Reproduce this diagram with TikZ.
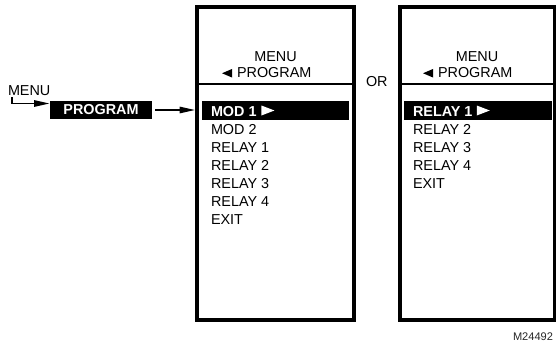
\documentclass[tikz,border=0pt]{standalone}
\usepackage{fontspec}
\setmainfont{Liberation Sans}
\usetikzlibrary{arrows.meta}
\begin{document}
\begin{tikzpicture}[x=0.75pt,y=-0.75pt,
  font=\fontsize{10.8}{12}\selectfont,
  screen/.style={draw, line width=2.6pt, inner sep=0pt, outer sep=0pt},
  bar/.style={fill=black, inner sep=0pt, outer sep=0pt, minimum height=14.25pt},
  txt/.style={inner sep=0pt, outer sep=0pt, anchor=base west},
  ctxt/.style={inner sep=0pt, outer sep=0pt, anchor=base},
  hl/.style={txt, text=white, font=\fontsize{10.8}{12}\selectfont\bfseries},
  arr/.style={line width=1.1pt, -{Triangle[length=11.5pt,width=4.8pt]}}
]
\useasboundingbox (0,0) rectangle (556,346);

% screens
\node[screen, minimum width=117.75pt, minimum height=234.75pt] (box1) at (275.5,163.5) {};
\node[screen, minimum width=115.9pt, minimum height=234.75pt] (box2) at (477.25,163.5) {};
\coordinate (d) at (0,84);
\draw[line width=0.8pt] (box1.west |- d) -- (box1.east |- d);
\draw[line width=0.8pt] (box2.west |- d) -- (box2.east |- d);

% headers
\node[ctxt] (h1) at (275.5,62) {MENU};
\node[txt] (p1) at (237,78) {PROGRAM};
\fill (222,73.25) -- (232,69) -- (232,77.5) -- cycle;
\node[ctxt] (h2) at (477,62) {MENU};
\node[txt] (p2) at (438,78) {PROGRAM};
\fill (423,73.25) -- (433,69) -- (433,77.5) -- cycle;

% highlight bars
\node[bar, minimum width=110.25pt] (bar1) at (275.5,110.5) {};
\node[bar, minimum width=111pt] (bar2) at (478,110.5) {};

% left screen items
\node[hl] (m1) at (211,116) {MOD 1};
\fill[white] ([xshift=3.6pt]m1.base east) ++(0,-0.5) -- ++(0,-10) -- ++(13,5) -- cycle;
\node[txt] (m2) at (211,134) {MOD 2};
\node[txt] (r1) at (211,152) {RELAY 1};
\node[txt] (r2) at (211,170) {RELAY 2};
\node[txt] (r3) at (211,188) {RELAY 3};
\node[txt] (r4) at (211,206) {RELAY 4};
\node[txt] (ex) at (211,224) {EXIT};

% right screen items
\node[hl] (s1) at (413,116) {RELAY 1};
\fill[white] ([xshift=3.2pt]s1.base east) ++(0,-0.5) -- ++(0,-10) -- ++(13,5) -- cycle;
\node[txt] (s2) at (413,134) {RELAY 2};
\node[txt] (s3) at (413,152) {RELAY 3};
\node[txt] (s4) at (413,170) {RELAY 4};
\node[txt] (sx) at (413,188) {EXIT};

% OR
\node[txt] (or) at (366,86) {OR};

% left side
\node[txt] (menu) at (8,95) {MENU};
\node[fill=black, text=white, font=\fontsize{10.8}{12}\selectfont\bfseries,
      inner sep=0pt, outer sep=0pt, minimum width=76.5pt, minimum height=13.5pt] (prog) at (101,110) {PROGRAM};
\coordinate (lstart) at (12,97);
\coordinate (ltip) at (49.5,103.5);
\draw[arr] (lstart) |- (ltip);
\draw[arr, shorten <=2.25pt, shorten >=1.5pt] (prog.east) -- (box1.west |- prog.east);

% figure number
\node[txt, font=\fontsize{8.3}{10}\selectfont, text=black!85] (fig) at (513,340) {M24492};
\end{tikzpicture}
\end{document}
